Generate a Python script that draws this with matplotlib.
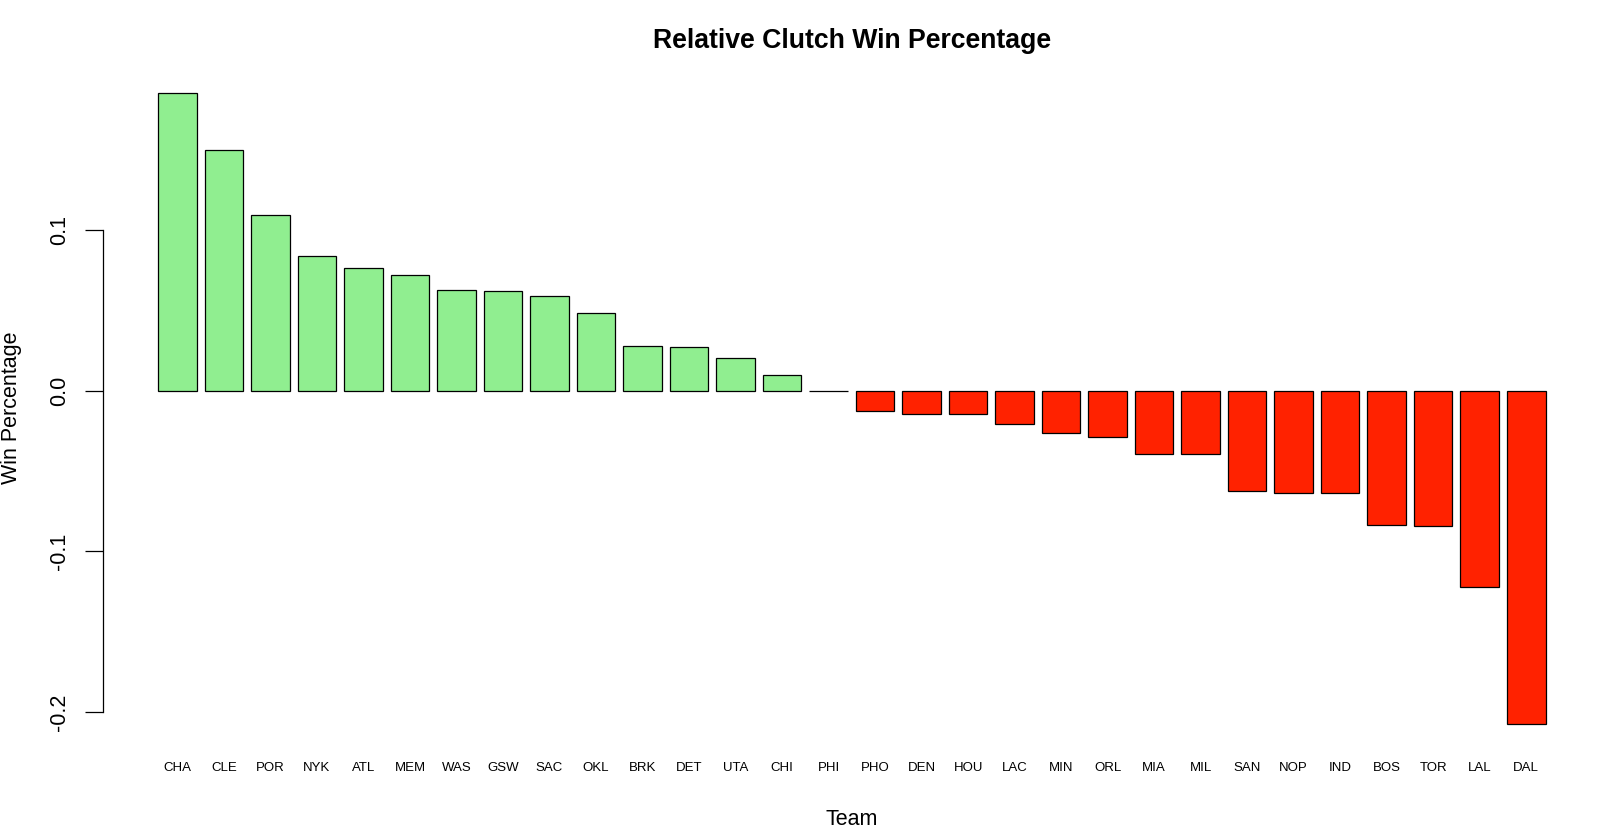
import numpy as np
import matplotlib
matplotlib.use("Agg")
import matplotlib.pyplot as plt  # noqa: E402

teams = ["CHA", "CLE", "POR", "NYK", "ATL", "MEM", "WAS", "GSW", "SAC", "OKL",
         "BRK", "DET", "UTA", "CHI", "PHI", "PHO", "DEN", "HOU", "LAC", "MIN",
         "ORL", "MIA", "MIL", "SAN", "NOP", "IND", "BOS", "TOR", "LAL", "DAL"]
win_pct = [0.1857, 0.1501, 0.1096, 0.0840, 0.0767, 0.0719, 0.0630, 0.0621, 0.0593, 0.0487,
           0.0281, 0.0270, 0.0206, 0.0097, -0.0002, -0.0129, -0.0144, -0.0144, -0.0206, -0.0262,
           -0.0287, -0.0396, -0.0396, -0.0626, -0.0634, -0.0636, -0.0834, -0.0842, -0.1221, -0.2073]
yticks = [-0.2, -0.1, 0.0, 0.1]
ytick_labels = ["-0.2", "-0.1", "0.0", "0.1"]

W, H = 1600, 839
plt.rcParams["font.family"] = ["Liberation Sans", "DejaVu Sans"]
fig = plt.figure(figsize=(W / 100, H / 100), dpi=100)

# plot region, in pixels, as R's barplot put it
left, right, top, bottom = 102.6, 1601.0, 67.3, 748.9
ax = fig.add_axes([left / W, 1 - bottom / H, (right - left) / W, (bottom - top) / H])

vals = np.array(win_pct)
x = 0.7 + 1.2 * np.arange(len(vals))
cols = np.where(vals > 0, "#90EE90", "#FF2200")
ax.bar(x, vals, width=1.0, color=cols, edgecolor="black", linewidth=0.9)

# R-style 4% padding on both axes
x0, x1 = 0.2, x[-1] + 0.5
pad = 0.04 * (x1 - x0)
ax.set_xlim(x0 - pad, x1 + pad)
y0, y1 = vals.min(), vals.max()
pad = 0.04 * (y1 - y0)
ax.set_ylim(y0 - pad, y1 + pad)

for s in ["top", "right", "bottom"]:
    ax.spines[s].set_visible(False)
ax.spines["left"].set_bounds(yticks[0], yticks[-1])
ax.spines["left"].set_linewidth(0.9)

ax.set_yticks(yticks, ytick_labels, rotation=90, va="center", fontsize=15.5)
ax.tick_params(axis="y", length=12.7, width=0.9, pad=11)
ax.set_xticks(x, teams, fontsize=9.5)
ax.tick_params(axis="x", length=0, pad=9.5)

fig.text(852 / W, 1 - 48 / H, "Relative Clutch Win Percentage",
         ha="center", va="baseline", fontsize=19.2, fontweight="bold")
fig.text(852 / W, 1 - 825 / H, "Team", ha="center", va="baseline", fontsize=15.5)
fig.text(12 / W, 1 - 408 / H, "Win Percentage", ha="center", va="center",
         rotation=90, fontsize=15.5)

fig.savefig("out.png", dpi=100)
